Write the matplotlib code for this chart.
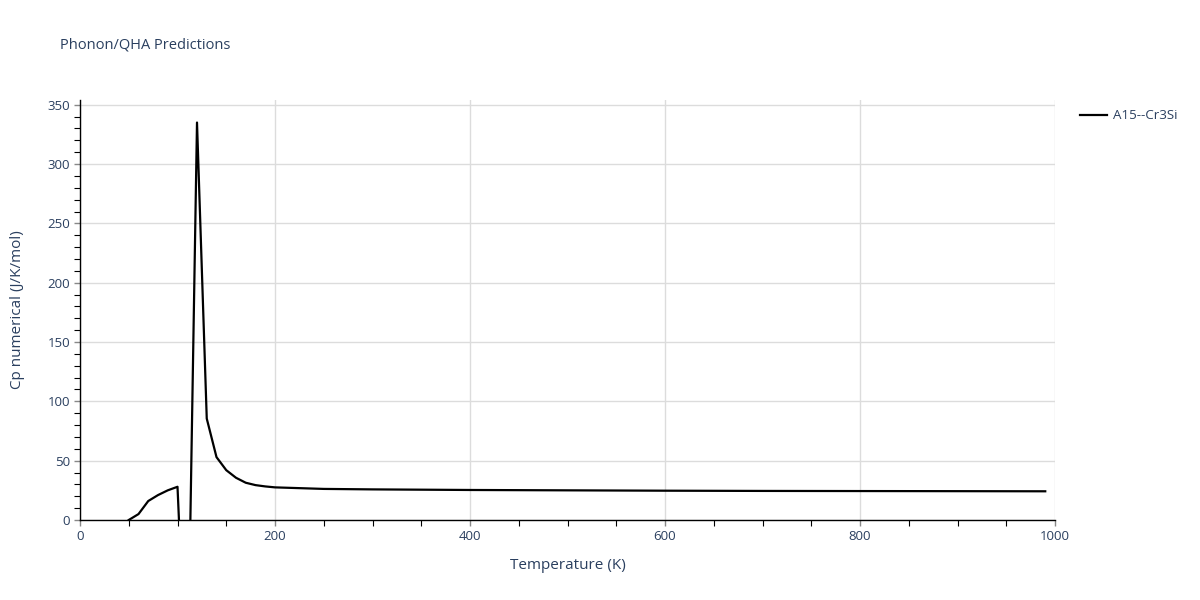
import matplotlib
matplotlib.use("Agg")
import matplotlib.pyplot as plt
from matplotlib.ticker import MultipleLocator

temperature = [50, 60, 70, 80, 90, 100, 110, 120, 130, 140, 150, 160, 170, 180,
               190, 200, 250, 300, 400, 500, 600, 700, 800, 900, 990]
cp = [0, 5, 16, 21, 25, 28, -158, 335, 85.5, 53, 42, 35.6, 31.4, 29.4,
      28.3, 27.5, 26.2, 25.8, 25.3, 25.0, 24.7, 24.5, 24.4, 24.3, 24.2]
series_name = "A15--Cr3Si"

text_color = "#2a3f5f"
grid_color = "#dcdcdc"

plt.rcParams['font.family'] = ['Open Sans', 'DejaVu Sans']

fig = plt.figure(figsize=(12, 6), dpi=100)
ax = fig.add_axes([80/1200, 80/600, 975/1200, 420/600])

ax.plot(temperature, cp, color="black", linewidth=1.6, label=series_name, clip_on=True)

ax.set_xlim(0, 1000)
ax.set_ylim(0, 354)

ax.xaxis.set_major_locator(MultipleLocator(200))
ax.xaxis.set_minor_locator(MultipleLocator(50))
ax.yaxis.set_major_locator(MultipleLocator(50))
ax.yaxis.set_minor_locator(MultipleLocator(10))

ax.grid(True, which="major", color=grid_color, linewidth=1)
ax.set_axisbelow(True)

for side in ["top", "right"]:
    ax.spines[side].set_visible(False)
for side in ["left", "bottom"]:
    ax.spines[side].set_color("black")
    ax.spines[side].set_linewidth(1)

ax.tick_params(axis="both", which="major", length=4, color="#888888",
               labelsize=9.5, labelcolor=text_color, width=1, pad=3)
ax.tick_params(axis="both", which="minor", length=4, color="black", width=0.8)

ax.set_xlabel("Temperature (K)", fontsize=11, color=text_color, labelpad=11)
ax.set_ylabel("Cp numerical (J/K/mol)", fontsize=11, color=text_color, labelpad=16)

fig.text(60/1200, 1 - 45/600, "Phonon/QHA Predictions", fontsize=10.5,
         color=text_color, va="center", ha="left")

leg = ax.legend(loc="upper left", bbox_to_anchor=(1.016, 1.0), frameon=False,
                fontsize=9.6, handlelength=2.0, borderaxespad=0.3, handletextpad=0.5)
for t in leg.get_texts():
    t.set_color(text_color)

fig.savefig("out.png", dpi=100, facecolor="white")
